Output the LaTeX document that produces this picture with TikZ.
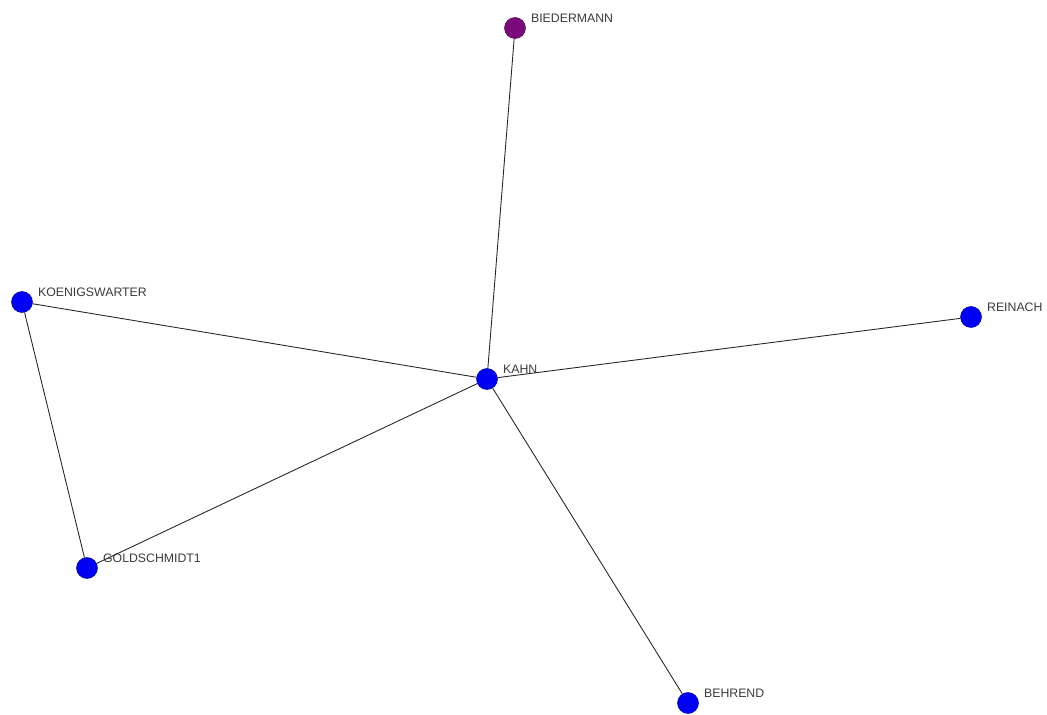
\documentclass[tikz,border=0pt]{standalone}
\usepackage{fontspec}
\setmainfont{Liberation Sans}
\usepackage{xcolor}
\usetikzlibrary{positioning}
\definecolor{Actor}{HTML}{0000F5}
\definecolor{Seed}{HTML}{7A0A7A}
\definecolor{Ink}{HTML}{3A3A3A}
\tikzset{
  actor/.style={circle,fill=Actor,draw=Actor!70!black,line width=0.3pt,minimum size=0.42cm,inner sep=0pt},
  seed/.style={actor,fill=Seed,draw=Seed!70!black},
  lbl/.style={font=\fontsize{7}{8}\selectfont,text=Ink,inner sep=0pt,anchor=west,xshift=0.1cm,yshift=0.2cm},
  tie/.style={draw=black!85,line width=0.5pt}
}

\begin{document}
\begin{tikzpicture}[x=0.02cm,y=-0.02cm]
  \useasboundingbox (0,0) rectangle (1047,715);
  \node[seed,label={[lbl]east:BIEDERMANN}] (bied) at (515,28) {};
  \node[actor,label={[lbl]east:KOENIGSWARTER}] (koen) at (22,302) {};
  \node[actor,label={[lbl]east:REINACH}] (rein) at (971,317) {};
  \node[actor,label={[lbl]east:KAHN}] (kahn) at (487,379) {};
  \node[actor,label={[lbl]east:GOLDSCHMIDT1}] (gold) at (87,568) {};
  \node[actor,label={[lbl]east:BEHREND}] (behr) at (688,703) {};
  \draw[tie] (bied) -- (kahn);
  \draw[tie] (koen) -- (kahn);
  \draw[tie] (koen) -- (gold);
  \draw[tie] (gold) -- (kahn);
  \draw[tie] (kahn) -- (rein);
  \draw[tie] (kahn) -- (behr);
\end{tikzpicture}
\end{document}
